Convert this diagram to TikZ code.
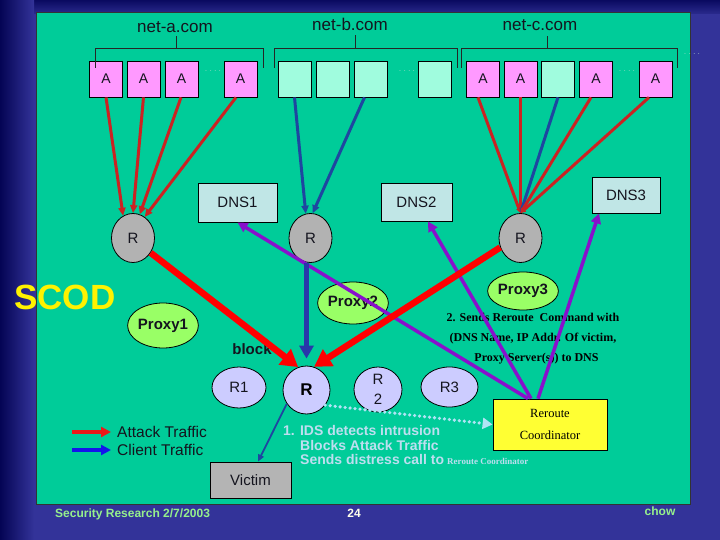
\documentclass[tikz,border=0pt]{standalone}
\usepackage{fontspec}
\setmainfont{Liberation Sans}
\newfontfamily\myserif{Liberation Serif}
\usetikzlibrary{arrows.meta,shapes.geometric,calc}

\definecolor{bgblue}{RGB}{51,51,153}
\definecolor{navy}{RGB}{4,4,84}
\definecolor{topnavy}{RGB}{10,10,96}
\definecolor{panelgreen}{RGB}{0,204,153}
\definecolor{pinkbox}{RGB}{255,153,255}
\definecolor{cyanbox}{RGB}{160,252,222}
\definecolor{dnsfill}{RGB}{192,230,230}
\definecolor{routergray}{RGB}{178,178,178}
\definecolor{lowlav}{RGB}{204,204,255}
\definecolor{proxygreen}{RGB}{153,255,102}
\definecolor{coordyellow}{RGB}{255,255,51}
\definecolor{victimgray}{RGB}{180,180,180}
\definecolor{thinred}{RGB}{204,34,34}
\definecolor{thinblue}{RGB}{30,70,160}
\definecolor{thickblue}{RGB}{40,55,170}
\definecolor{purp}{RGB}{136,17,204}
\definecolor{idstext}{RGB}{190,222,240}
\definecolor{dotcol}{RGB}{175,228,245}
\definecolor{footgreen}{RGB}{150,240,140}
\definecolor{dotsgray}{RGB}{190,225,210}
\definecolor{darktext}{RGB}{20,20,30}
\definecolor{legred}{RGB}{235,25,25}
\definecolor{legblue}{RGB}{20,20,235}

\newcommand\fsz[1]{\fontsize{#1}{#1}\selectfont}

\tikzset{
  abox/.style={draw=black, line width=0.8pt, fill=pinkbox, minimum width=33pt, minimum height=36pt, inner sep=0pt, font=\fsz{14}, text=darktext},
  cbox/.style={abox, fill=cyanbox},
  dnsbox/.style={draw=black, line width=0.8pt, fill=dnsfill, inner sep=0pt, font=\fsz{15}, text=darktext},
  router/.style={ellipse, draw=black, line width=0.8pt, fill=routergray, inner sep=0pt, minimum width=43pt, minimum height=49pt, font=\fsz{15}, text=darktext},
  lowrouter/.style={ellipse, draw=black, line width=0.8pt, fill=lowlav, inner sep=0pt, font=\fsz{15}, text=darktext},
  proxy/.style={ellipse, draw=black, line width=0.8pt, fill=proxygreen, minimum width=70pt, inner sep=0pt, font=\bfseries\fsz{15}, text=darktext},
  bracket/.style={draw=black!85, line width=0.9pt},
  nettext/.style={font=\fsz{17}, text=darktext, inner sep=0pt},
  dotstext/.style={font=\fsz{7}, text=dotsgray, inner sep=0pt},
  thinr/.style={draw=thinred, line width=3pt, -{Triangle[length=8pt,width=7pt]}},
  thinb/.style={draw=thinblue, line width=3pt, -{Triangle[length=8pt,width=7pt]}},
  thinrc/.style={draw=thinred, line width=3pt, -{Triangle[length=5pt,width=5pt]}},
  thinbc/.style={draw=thinblue, line width=3pt, -{Triangle[length=5pt,width=5pt]}},
  purpa/.style={draw=purp, line width=3.5pt, -{Triangle[length=10pt,width=10pt]}},
  thickr/.style={draw=red, line width=6.5pt, -{Triangle[length=17pt,width=19pt]}},
  thickb/.style={draw=thickblue, line width=5pt, -{Triangle[length=13pt,width=14pt]}},
  victarrow/.style={draw=thinblue, line width=1.8pt, -{Triangle[length=7pt,width=6pt]}},
  dotarrow/.style={draw=dotcol, line width=3.6pt, dash pattern=on 0pt off 5pt, line cap=round, -{Triangle[length=10pt,width=11pt]}},
  legr/.style={draw=legred, line width=4pt, -{Triangle[length=10pt,width=10pt]}},
  legb/.style={draw=legblue, line width=4pt, -{Triangle[length=10pt,width=10pt]}},
  legtext/.style={anchor=west, font=\fsz{15.5}, text=darktext, inner sep=0pt},
  idst/.style={anchor=west, font=\bfseries\fsz{14}, text=idstext, inner sep=0pt},
  sertext/.style={font=\myserif\bfseries\fsz{12}, text=black, inner sep=0pt},
  foot/.style={font=\bfseries\fsz{12}, inner sep=0pt}
}

\begin{document}
\begin{tikzpicture}[x=1pt,y=-1pt]
\useasboundingbox (0,0) rectangle (720,540);
% background
\fill[bgblue] (0,0) rectangle (720,540);
\shade[top color=topnavy, bottom color=bgblue!80!topnavy] (0,0) rectangle (720,14);
\shade[left color=navy, right color=bgblue] (0,0) rectangle (34,540);
% panel
\draw[fill=panelgreen, draw=black!80, line width=1pt] (36,13) rectangle (690,504);

% net-a boxes
\node[abox] (a1) at (106,79) {A};
\node[abox] (a2) at (143.5,79) {A};
\node[abox] (a3) at (181.5,79) {A};
\node[abox] (a4) at (240.5,79) {A};
% net-b boxes
\node[cbox] (b1) at (294.5,79) {};
\node[cbox] (b2) at (332.5,79) {};
\node[cbox] (b3) at (370.5,79) {};
\node[cbox] (b4) at (434.5,79) {};
% net-c boxes
\node[abox] (c1) at (483,79) {A};
\node[abox] (c2) at (520.5,79) {A};
\node[cbox] (c3) at (558,79) {};
\node[abox] (c4) at (596,79) {A};
\node[abox] (c5) at (655.5,79) {A};

% dots
\node[dotstext] (d1) at (213,71) {. . . .};
\node[dotstext] (d2) at (407,71) {. . . .};
\node[dotstext] (d3) at (627,71) {. . . .};
\node[dotstext] (d4) at (692,54) {. . . .};

% net labels and brackets
\node[nettext] (neta) at (175,27) {net-a.com};
\node[nettext] (netb) at (350,24) {net-b.com};
\node[nettext] (netc) at (540,25) {net-c.com};
\draw[bracket] (95,68) -- (95,48) -- (263,48) -- (263,68);
\draw[bracket] (176,48) -- (176,36);
\draw[bracket] (274,68) -- (274,48) -- (457,48) -- (457,68);
\draw[bracket] (355,48) -- (355,35);
\draw[bracket] (461,68) -- (461,48) -- (677,48) -- (677,68);
\draw[bracket] (547,48) -- (547,36);

% DNS boxes
\node[dnsbox, minimum width=79pt, minimum height=39pt] (dns1) at (237.5,202.5) {DNS1};
\node[dnsbox, minimum width=71pt, minimum height=38pt] (dns2) at (416.5,202) {DNS2};
\node[dnsbox, minimum width=68pt, minimum height=36pt] (dns3) at (626,195) {DNS3};

% routers
\node[router] (r1) at (133,238) {R};
\node[router] (r2) at (310.5,238) {R};
\node[router] (r3) at (520.5,238) {R};

% SCOD
\node[anchor=west, text=yellow, font=\bfseries\fsz{35}, inner sep=0pt] (scod) at (14,297) {SCOD};

% proxies
\node[proxy, minimum height=45pt] (p1) at (163,325.5) {Proxy1};
\node[proxy, minimum height=42pt] (p2) at (353,303) {Proxy2};
\node[proxy, minimum height=38pt] (p3) at (523,291) {Proxy3};

\node[font=\bfseries\fsz{15}, text=darktext, inner sep=0pt] (blk) at (252,349) {block};

% lower routers
\node[lowrouter, minimum width=54pt, minimum height=41pt] (rl1) at (239,387.5) {R1};
\node[lowrouter, minimum width=47pt, minimum height=48pt, font=\bfseries\fsz{17}, text=black] (rb) at (306.5,390) {R};
\node[lowrouter, minimum width=48pt, minimum height=45pt, label={[font=\fontsize{15}{20}\selectfont, align=center, text=darktext]center:R\\2}] (rl2) at (378,389.5) {};
\node[lowrouter, minimum width=57pt, minimum height=40pt] (rl3) at (449.5,387) {R3};

% serif command text
\node[sertext] (t1) at (533,317) {2. Sends Reroute~~Command with};
\node[sertext] (t2) at (533,339) {(DNS Name, IP Addr. Of victim,};
\node[sertext] (t3) at (536.5,359) {Proxy Server(s)) to DNS};

% reroute coordinator
\node[draw=black, line width=0.8pt, fill=coordyellow, minimum width=114pt, minimum height=51pt, inner sep=0pt, align=center, font=\myserif\fontsize{12.5}{22}\selectfont] (rc) at (550,424.5) {Reroute\\Coordinator};

% victim
\node[draw=black, line width=0.8pt, fill=victimgray, minimum width=81pt, minimum height=36pt, inner sep=0pt, font=\fsz{15}, text=darktext] (victim) at (250.5,480) {Victim};

% IDS text
\node[idst] (ids1) at (283,430) {1. IDS detects intrusion};
\node[idst] (ids2) at (300,445) {Blocks Attack Traffic};
\node[idst] (ids3) at (300,459) {Sends distress call to};
\node[anchor=west, font=\myserif\bfseries\fsz{9}, text=idstext, inner sep=0pt] (ids4) at (447,461) {Reroute Coordinator};

% legend
\coordinate (lga) at (72,432);
\coordinate (lgb) at (111,432);
\coordinate (lgc) at (72,450);
\coordinate (lgd) at (111,450);
\draw[legr] (lga) -- (lgb);
\draw[legb] (lgc) -- (lgd);
\node[legtext] (lt1) at (117,432) {Attack Traffic};
\node[legtext] (lt2) at (117,450) {Client Traffic};

% footer
\node[foot, anchor=west, text=footgreen] (footl) at (55,514) {Security Research 2/7/2003};
\node[foot, text=white!92!yellow] (pg) at (354,513) {24};
\node[foot, text=footgreen] (chow) at (660,511) {chow};

% thin traffic lines
\draw[thinr] (a1.south) -- (r1.114);
\draw[thinr] (a2.south) -- (r1.90);
\draw[thinr] ([xshift=-0.5pt]a3.south) -- (r1.74);
\draw[thinr] ([xshift=-4.5pt]a4.south) -- (r1.61);
\draw[thinb] (b1.south) -- (r2.101);
\draw[thinb] ([xshift=-6pt]b3.south) -- (r2.85);
\draw[thinrc] ([xshift=-5pt]c1.south) -- (r3.north);
\draw[thinrc] (c2.south) -- (r3.north);
\draw[thinbc] (c3.south) -- (r3.north);
\draw[thinrc] ([xshift=-5pt]c4.south) -- (r3.north);
\draw[thinrc] ([xshift=-6.5pt]c5.south) -- (r3.north);

% purple reroute commands
\draw[purpa] ([xshift=-22pt]rc.north) -- (dns1.south);
\draw[purpa] ([xshift=-19pt]rc.north) -- ([xshift=11.5pt]dns2.south);
\draw[purpa] ([xshift=-12pt]rc.north) -- ([xshift=-27pt]dns3.south);

% thick attack / client flows
\draw[thickr] (r1.-40) -- (rb.110);
\draw[thickr] (r3.205) -- (rb.72);
\draw[thickb] (r2.south -| rb.north) -- ([yshift=7pt]rb.north);

% victim link and distress call
\draw[victarrow] (rb.215) -- ([xshift=7.5pt]victim.north);
\draw[dotarrow] (rb.-39) -- (rc.west);
\end{tikzpicture}
\end{document}
